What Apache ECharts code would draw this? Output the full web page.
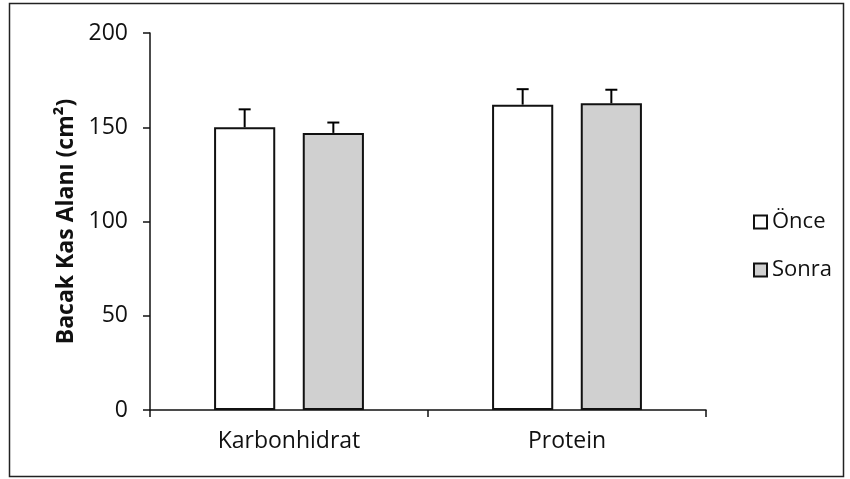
<!DOCTYPE html>
<html><head><meta charset="utf-8">
<script src="https://cdn.jsdelivr.net/npm/echarts@6/dist/echarts.min.js"></script>
<style>html,body{margin:0;padding:0;background:#fff}#c{width:850px;height:479px}</style>
</head><body><div id="c"></div>
<script>
var categories = ['Karbonhidrat', 'Protein'];
var onceValues = [150, 162];
var onceErrors = [9.5, 8.2];
var sonraValues = [147, 162.7];
var sonraErrors = [5.5, 7.2];
var yTicks = [0, 50, 100, 150, 200];

var BAR_PCT = 0.22, GAP_RATIO = 0.45;
function errSeries(values, errors, side) {
  return {
    type: 'custom',
    silent: true,
    z: 5,
    data: values.map(function (v, i) { return [i, v, v + errors[i]]; }),
    renderItem: function (params, api) {
      var band = api.size([1, 0])[0];
      var bw = band * BAR_PCT, gap = bw * GAP_RATIO;
      var off = side * (bw + gap) / 2;
      var p0 = api.coord([api.value(0), api.value(1)]);
      var p1 = api.coord([api.value(0), api.value(2)]);
      var x = p0[0] + off;
      var st = { stroke: '#000', lineWidth: 2 };
      return { type: 'group', children: [
        { type: 'line', shape: { x1: x, y1: p0[1], x2: x, y2: p1[1] }, style: st },
        { type: 'line', shape: { x1: x - 6, y1: p1[1], x2: x + 6, y2: p1[1] }, style: st }
      ]};
    }
  };
}

var chart = echarts.init(document.getElementById('c'));
chart.setOption({
  animation: false,
  textStyle: { fontFamily: 'Open Sans' },
  graphic: [{ type: 'rect', shape: { x: 9.5, y: 3.5, width: 834, height: 473 },
    style: { fill: 'none', stroke: '#222', lineWidth: 1.5 } }],
  grid: { left: 150, right: 144, top: 33, bottom: 69 },
  legend: {
    orient: 'vertical', left: 748, top: 206, itemGap: 26,
    itemWidth: 13, itemHeight: 13, icon: 'rect',
    textStyle: { fontSize: 22, color: '#111', fontFamily: 'Open Sans' },
    data: ['Önce', 'Sonra']
  },
  xAxis: {
    type: 'category', data: categories,
    axisLine: { lineStyle: { color: '#111', width: 1.5 } },
    axisTick: { show: true, length: 7, lineStyle: { color: '#111', width: 1.5 } },
    axisLabel: { fontSize: 23, color: '#111', margin: 20 }
  },
  yAxis: {
    type: 'value', min: yTicks[0], max: yTicks[yTicks.length - 1], interval: 50,
    name: 'Bacak Kas Alanı (cm²)', nameLocation: 'middle', nameGap: 65,
    nameTextStyle: { fontSize: 23, fontWeight: 'bold', color: '#111' },
    axisLine: { show: true, lineStyle: { color: '#111', width: 1.5 } },
    axisTick: { show: true, length: 7, lineStyle: { color: '#111', width: 1.5 } },
    axisLabel: { fontSize: 23, color: '#111', margin: 22 },
    splitLine: { show: false }
  },
  series: [
    { name: 'Önce', type: 'bar', data: onceValues, barWidth: '22%', barGap: '45%',
      itemStyle: { color: '#ffffff', borderColor: '#111', borderWidth: 2 } },
    { name: 'Sonra', type: 'bar', data: sonraValues, barWidth: '22%', barGap: '45%',
      itemStyle: { color: '#d0d0d0', borderColor: '#111', borderWidth: 2 } },
    errSeries(onceValues, onceErrors, -1),
    errSeries(sonraValues, sonraErrors, 1)
  ]
});
</script></body></html>
